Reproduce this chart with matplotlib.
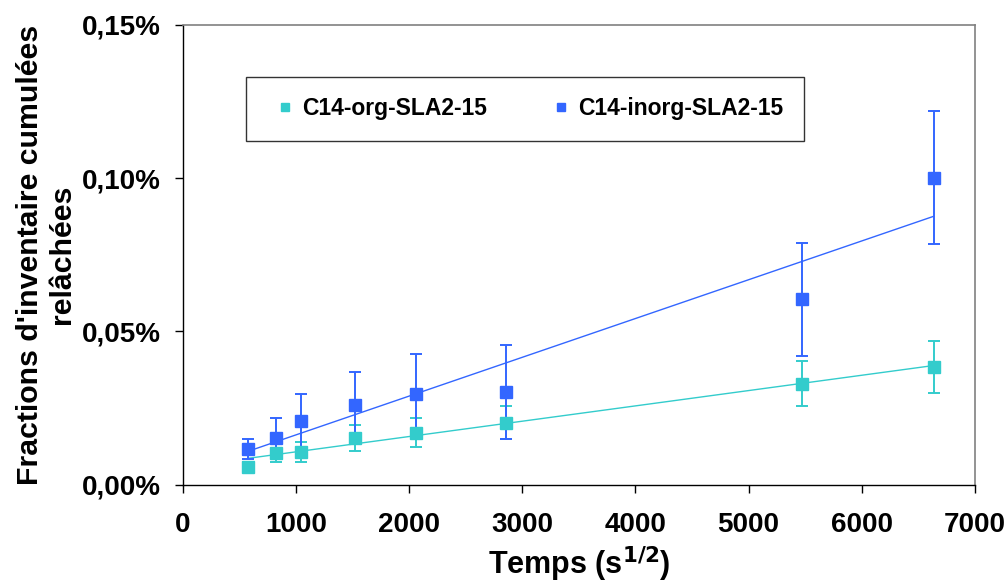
import numpy as np
import matplotlib
matplotlib.use('Agg')
import matplotlib.pyplot as plt
from matplotlib.ticker import FuncFormatter

ORG_COLOR = '#33CCCC'
INORG_COLOR = '#3366FF'

# temps (s^1/2)
temps = [575, 823, 1044, 1522, 2062, 2858, 5469, 6637]

# fractions relachees (%)
org = [0.0059, 0.0104, 0.0107, 0.0153, 0.0169, 0.0202, 0.0329, 0.0384]
org_err = [0.0015, 0.0030, 0.0033, 0.0042, 0.0047, 0.0054, 0.0073, 0.0085]
inorg = [0.0117, 0.0153, 0.0208, 0.0260, 0.0296, 0.0303, 0.0605, 0.1002]
inorg_err = [0.0033, 0.0065, 0.0087, 0.0107, 0.0130, 0.0153, 0.0185, 0.0217]

plt.rcParams['font.family'] = ['Liberation Sans', 'DejaVu Sans']
plt.rcParams['font.weight'] = 'bold'

fig = plt.figure(figsize=(10.08, 5.84), dpi=100)
ax = fig.add_axes([0.1815, 0.170, 0.7855, 0.7875])

x = np.array(temps)
xx = np.array([x.min(), x.max()])
for y, err, col, lab in [(org, org_err, ORG_COLOR, 'C14-org-SLA2-15'),
                         (inorg, inorg_err, INORG_COLOR, 'C14-inorg-SLA2-15')]:
    a, b = np.polyfit(x, y, 1)
    ax.plot(xx, a * xx + b, color=col, lw=1.0, zorder=2)
    ax.errorbar(x, y, yerr=err, fmt='s', color=col, ecolor=col, ms=8.5,
                elinewidth=1.4, capsize=4.5, capthick=1.4, label=lab, zorder=3)

ax.set_xlim(0, 7000)
ax.set_ylim(0, 0.15)
ax.set_xticks(range(0, 7001, 1000))
ax.set_yticks([0, 0.05, 0.10, 0.15])
ax.yaxis.set_major_formatter(FuncFormatter(lambda v, p: f'{v:.2f}%'.replace('.', ',')))
ax.tick_params(direction='out', length=6, width=1, labelsize=20)
ax.tick_params(axis='x', pad=14)
ax.tick_params(axis='y', pad=10)
for lab in ax.get_xticklabels() + ax.get_yticklabels():
    lab.set_fontweight('bold')

for s in ['left', 'bottom']:
    ax.spines[s].set_color('black')
    ax.spines[s].set_linewidth(1.0)
for s in ['top', 'right']:
    ax.spines[s].set_color('#808080')
    ax.spines[s].set_linewidth(1.2)

ax.set_xlabel('Temps (s$^{\\mathbf{1/2}}$)', fontsize=22, fontweight='bold', labelpad=4)
ax.set_ylabel("Fractions d'inventaire cumulées\nrelâchées", fontsize=21.8,
              fontweight='bold', labelpad=4, multialignment='center')

handles, labels = ax.get_legend_handles_labels()
handles = [h[0] for h in handles]
leg = ax.legend(handles, labels, loc='upper left', bbox_to_anchor=(0.0795, 0.887),
                ncol=2, frameon=True, fancybox=False, edgecolor='black',
                markerscale=0.75, handlelength=1.6, handletextpad=-0.05,
                borderpad=0.9, borderaxespad=0, columnspacing=2.45,
                prop={'weight': 'bold', 'size': 16.5})
leg.get_frame().set_linewidth(1.0)

fig.savefig('out.png', dpi=100)
